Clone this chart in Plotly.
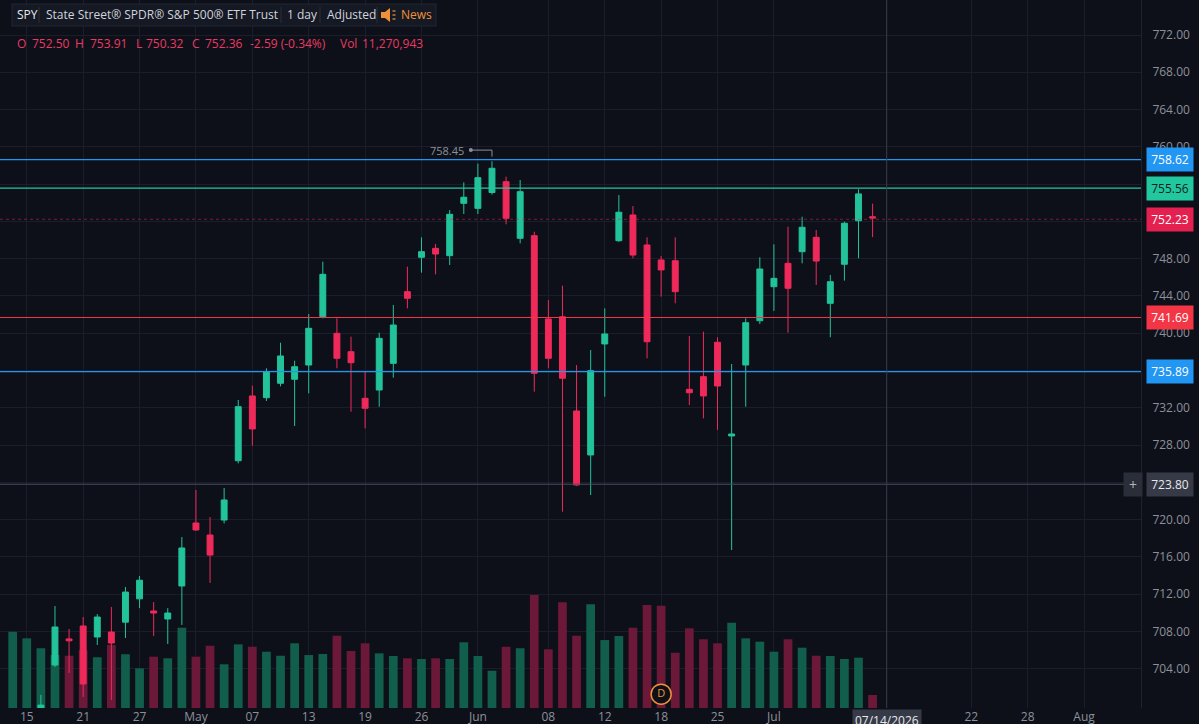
import plotly.graph_objects as go
import pandas as pd

# ---------------- data ----------------
holidays = ["2026-05-25", "2026-06-19", "2026-07-03"]
trade_days = pd.bdate_range("2026-04-14", "2026-08-07", freq="C", holidays=holidays)
dates = [d.strftime("%Y-%m-%d") for d in trade_days]

opens = [692.8, 695.6, 698.4, 704.40, 707.20, 708.59, 707.41, 707.94, 709.00, 711.50,
         710.20, 709.34, 712.88, 719.64, 718.35, 719.96, 726.32, 733.27, 733.08, 734.63,
         735.06, 736.59, 741.77, 739.99, 738.02, 733.02, 733.91, 736.77, 744.46, 748.15,
         749.11, 748.32, 753.94, 753.40, 755.10, 756.26, 750.19, 750.47, 741.53, 741.77,
         731.66, 726.94, 738.85, 749.93, 752.69, 749.47, 747.86, 747.78, 733.98, 735.34,
         739.03, 728.98, 736.59, 741.34, 744.99, 747.50, 748.75, 750.29, 743.21, 747.40,
         752.07, 752.50]
highs = [696.0, 698.9, 701.2, 710.73, 708.27, 709.55, 709.87, 710.63, 712.77, 713.96,
         711.16, 710.50, 718.13, 723.18, 720.28, 723.40, 732.84, 734.37, 736.24, 738.98,
         737.05, 742.06, 747.68, 741.60, 739.63, 735.87, 740.06, 743.03, 747.14, 750.29,
         749.58, 753.22, 756.19, 758.20, 758.45, 756.80, 756.44, 750.90, 743.57, 745.10,
         736.59, 738.20, 742.67, 754.83, 753.65, 750.29, 748.29, 750.29, 739.70, 740.17,
         739.57, 736.70, 741.60, 748.15, 749.54, 751.43, 752.50, 751.08, 746.25, 751.97,
         755.44, 753.91]
lows = [691.5, 694.8, 697.6, 704.19, 703.54, 700.97, 706.55, 700.65, 707.30, 710.50,
        707.50, 706.66, 708.70, 718.80, 713.20, 719.60, 726.04, 727.93, 732.73, 734.30,
        730.05, 733.55, 741.60, 736.24, 731.58, 729.80, 732.12, 735.23, 742.67, 746.50,
        746.32, 747.32, 752.79, 752.79, 754.87, 751.69, 749.65, 733.73, 736.24, 720.85,
        723.60, 722.64, 733.19, 749.80, 748.04, 737.31, 743.92, 743.21, 732.30, 730.87,
        729.62, 716.74, 732.12, 740.99, 742.39, 740.06, 747.50, 745.18, 739.57, 745.64,
        748.04, 750.32]
closes = [695.4, 698.2, 700.1, 708.48, 707.00, 702.37, 709.55, 706.76, 712.23, 713.50,
          709.98, 709.98, 716.96, 718.89, 716.20, 722.11, 732.12, 729.73, 735.87, 737.56,
          736.41, 740.53, 746.32, 737.31, 736.84, 731.95, 739.45, 740.88, 743.75, 748.75,
          748.50, 752.76, 754.59, 756.69, 757.70, 752.33, 755.19, 735.70, 737.31, 735.17,
          723.72, 735.98, 739.92, 752.98, 748.39, 739.09, 746.79, 744.46, 733.62, 733.27,
          734.34, 729.19, 741.13, 746.89, 745.89, 744.82, 751.37, 747.75, 745.53, 751.80,
          754.95, 752.36]
volumes = [66100000, 60400000, 51800000, 46000000, 45300000, 50000000, 44000000, 54600000,
           46600000, 34400000, 44500000, 43100000, 69600000, 44500000, 54000000, 37900000,
           55200000, 53100000, 48800000, 45300000, 56100000, 45900000, 46800000, 62700000,
           49400000, 56100000, 47400000, 45100000, 43100000, 42500000, 43100000, 42500000,
           57000000, 45100000, 32300000, 53100000, 51800000, 98000000, 50900000, 91600000,
           62700000, 89900000, 58900000, 62400000, 69600000, 89300000, 88700000, 47900000,
           69100000, 59600000, 56100000, 73900000, 60400000, 57500000, 48800000, 59600000,
           52300000, 45300000, 45100000, 42500000, 43600000, 11270943]

tick_dates = ["2026-04-15", "2026-04-21", "2026-04-27", "2026-05-01", "2026-05-07",
              "2026-05-13", "2026-05-19", "2026-05-26", "2026-06-01", "2026-06-08",
              "2026-06-12", "2026-06-18", "2026-06-25", "2026-07-01", "2026-07-22",
              "2026-07-28", "2026-08-03"]
tick_labels = ["15", "21", "27", "May", "07", "13", "19", "26", "Jun", "08", "12", "18",
               "25", "Jul", "22", "28", "Aug"]
price_ticks = [704, 708, 712, 716, 720, 724, 728, 732, 736, 740, 744, 748, 752, 756,
               760, 764, 768, 772]

level_blue_hi = 758.62
level_teal = 755.56
last_price = 752.23
level_red = 741.69
level_blue_lo = 735.89
cross_price = 723.80
cross_date = "2026-07-14"
dividend_date = "2026-06-18"

# ---------------- style ----------------
BG = "#0d1018"
GRID = "#1a1e2a"
GREEN = "#22c39a"
RED = "#ef2a5b"
VGREEN = "#115e4c"
VRED = "#6c1838"
BLUE = "#2196f3"
TEAL = "#22c7a0"
CRIMSON = "#e3204f"
RED2 = "#f23645"
ORANGE = "#f0913a"
TXT = "#d1d4dc"
AX = "#8c909b"
FONT = "Open Sans"

W, H = 1199, 724
ML, MR, MT, MB = 0, 58, 0, 16
PW, PH = W - ML - MR, H - MT - MB


def px(x):
    return (x - ML) / PW


def py(y):
    return 1 - (y - MT) / PH


n = len(opens)
xs = list(range(n))
vol_colors = [VGREEN if c >= o else VRED for o, c in zip(opens, closes)]

fig = go.Figure()
fig.add_trace(go.Bar(x=xs, y=volumes, marker=dict(color=vol_colors, line=dict(width=0)),
                     width=0.62, yaxis="y", hoverinfo="skip", showlegend=False))
fig.add_trace(go.Scatter(x=[dates.index(dividend_date)], y=[12e6], mode="markers+text",
                         marker=dict(size=20, color=BG, line=dict(color=ORANGE, width=1.5)),
                         text=["D"], textposition="middle center",
                         textfont=dict(color=ORANGE, size=11, family=FONT),
                         yaxis="y", hoverinfo="skip", showlegend=False))
fig.add_trace(go.Candlestick(x=xs, open=opens, high=highs, low=lows, close=closes, yaxis="y2",
                             increasing=dict(line=dict(color=GREEN, width=1), fillcolor=GREEN),
                             decreasing=dict(line=dict(color=RED, width=1), fillcolor=RED),
                             whiskerwidth=0, hoverinfo="skip", showlegend=False))

# max marker
hi_idx = max(range(n), key=lambda i: highs[i])
hi_val = highs[hi_idx]
fig.add_trace(go.Scatter(x=[hi_idx - 1.5], y=[hi_val + 1.2], mode="markers",
                         marker=dict(size=4, color=AX), yaxis="y2", hoverinfo="skip",
                         showlegend=False))

shapes = []
annotations = []

shapes.append(dict(type="line", xref="x", yref="y2", x0=hi_idx - 1.5, x1=hi_idx,
                   y0=hi_val + 1.2, y1=hi_val + 1.2, line=dict(color=AX, width=1)))
shapes.append(dict(type="line", xref="x", yref="y2", x0=hi_idx, x1=hi_idx,
                   y0=hi_val + 1.2, y1=hi_val + 0.5, line=dict(color=AX, width=1)))
annotations.append(dict(xref="x", yref="y2", x=hi_idx - 1.85, y=hi_val + 1.2,
                        text=f"{hi_val:.2f}", showarrow=False, xanchor="right",
                        yanchor="middle", font=dict(color=AX, size=11, family=FONT)))

# horizontal levels
for val, col in [(level_blue_hi, BLUE), (level_teal, TEAL), (level_red, RED2),
                 (level_blue_lo, BLUE)]:
    shapes.append(dict(type="line", xref="paper", yref="y2", x0=0, x1=1, y0=val, y1=val,
                       line=dict(color=col, width=1.2)))
shapes.append(dict(type="line", xref="paper", yref="y2", x0=0, x1=1, y0=last_price,
                   y1=last_price, line=dict(color="rgba(227,32,79,0.55)", width=1, dash="dot")))
# crosshair
shapes.append(dict(type="line", xref="paper", yref="y2", x0=0, x1=1, y0=cross_price,
                   y1=cross_price, line=dict(color="#4a4f5e", width=1)))
cx = dates.index(cross_date)
shapes.append(dict(type="line", xref="x", yref="paper", x0=cx, x1=cx, y0=0, y1=1,
                   line=dict(color="#3a3e4b", width=1)))

# price label boxes
for val, bg, fc in [(level_blue_hi, BLUE, "#ffffff"), (level_teal, TEAL, "#0d1f1a"),
                    (last_price, CRIMSON, "#ffffff"), (level_red, RED2, "#ffffff"),
                    (level_blue_lo, BLUE, "#ffffff"), (cross_price, "#363a46", "#e6e8ee")]:
    annotations.append(dict(xref="paper", yref="y2", x=1, y=val, xanchor="left",
                            yanchor="middle", xshift=5, text=f"{val:.2f}", showarrow=False,
                            bgcolor=bg, borderpad=3, width=40,
                            font=dict(color=fc, size=12, family=FONT)))
annotations.append(dict(xref="paper", yref="y2", x=1, y=cross_price, xanchor="right",
                        yanchor="middle", xshift=2, text="+", showarrow=False,
                        bgcolor="#2a2e39", borderpad=2, width=14,
                        font=dict(color="#b2b5be", size=14, family=FONT)))
annotations.append(dict(xref="x", yref="paper", x=cx, y=0, xanchor="center",
                        yanchor="top", yshift=-1, text=pd.Timestamp(cross_date).strftime("%m/%d/%Y"),
                        showarrow=False, bgcolor="#363a46", borderpad=2,
                        font=dict(color="#e6e8ee", size=12, family=FONT)))

# header box
shapes.append(dict(type="rect", xref="paper", yref="paper", x0=px(12), x1=px(436),
                   y0=py(26), y1=py(4), fillcolor="#151924", line=dict(color="#232733", width=1),
                   layer="above"))
for sx in [39, 281, 320, 377]:
    shapes.append(dict(type="line", xref="paper", yref="paper", x0=px(sx), x1=px(sx),
                       y0=py(23), y1=py(7), line=dict(color="#2a2e39", width=1), layer="above"))
# speaker icon
pts = [(381, 12), (385, 12), (390, 8), (390, 22), (385, 18), (381, 18)]
path = "M " + " L ".join(f"{px(a):.5f},{py(b):.5f}" for a, b in pts) + " Z"
shapes.append(dict(type="path", xref="paper", yref="paper", path=path, fillcolor=ORANGE,
                   line=dict(width=0), layer="above"))
for yy in [11, 15, 19]:
    shapes.append(dict(type="line", xref="paper", yref="paper", x0=px(392.5), x1=px(395.5),
                       y0=py(yy), y1=py(yy), line=dict(color=ORANGE, width=1.2), layer="above"))

for x0, t, col in [(15, "SPY", "#e6e8ee"), (44, "State Street® SPDR® S&P 500® ETF Trust", TXT),
                   (285, "1 day", TXT), (325, "Adjusted", TXT), (399, "News", ORANGE)]:
    annotations.append(dict(xref="paper", yref="paper", x=px(x0), y=py(15), xanchor="left",
                            yanchor="middle", text=t, showarrow=False,
                            font=dict(color=col, size=12, family=FONT)))

# OHLC row
chg = closes[-1] - closes[-2]
pct = chg / closes[-2] * 100
PINK = "#ea3a63"
row = [(15, "O"), (30, f"{opens[-1]:.2f}"), (73, "H"), (88, f"{highs[-1]:.2f}"),
       (134, "L"), (144, f"{lows[-1]:.2f}"), (190, "C"), (203, f"{closes[-1]:.2f}"),
       (248, f"{chg:.2f} ({pct:.2f}%)"), (338, "Vol"), (360, f"{volumes[-1]:,}")]
for x0, t in row:
    annotations.append(dict(xref="paper", yref="paper", x=px(x0), y=py(44), xanchor="left",
                            yanchor="middle", text=t, showarrow=False,
                            font=dict(color=PINK, size=12, family=FONT)))

vmax = 11270943 / 13 * PH

fig.update_layout(
    width=W, height=H, margin=dict(l=ML, r=MR, t=MT, b=MB),
    paper_bgcolor=BG, plot_bgcolor=BG, showlegend=False, boxgap=0.4,
    font=dict(family=FONT, color=AX, size=12),
    xaxis=dict(range=[-0.9, 80.04], tickvals=[dates.index(d) for d in tick_dates],
               ticktext=tick_labels, showgrid=True, gridcolor=GRID, gridwidth=1,
               zeroline=False, showline=False, ticks="", rangeslider=dict(visible=False),
               tickfont=dict(color=AX, size=12, family=FONT), fixedrange=True),
    yaxis=dict(range=[0, vmax], visible=False, showgrid=False, zeroline=False),
    yaxis2=dict(range=[775.755 - PH / 9.32, 775.755], overlaying="y", side="right",
                anchor="x", tickmode="array", tickvals=price_ticks,
                ticktext=[f"{v:.2f}" for v in price_ticks], showgrid=True,
                gridcolor=GRID, zeroline=False, showline=True, linecolor="#1e222d",
                ticks="", ticklabelstandoff=8,
                tickfont=dict(color=AX, size=12, family=FONT)),
    shapes=shapes, annotations=annotations,
)

fig.write_html("out.html")
